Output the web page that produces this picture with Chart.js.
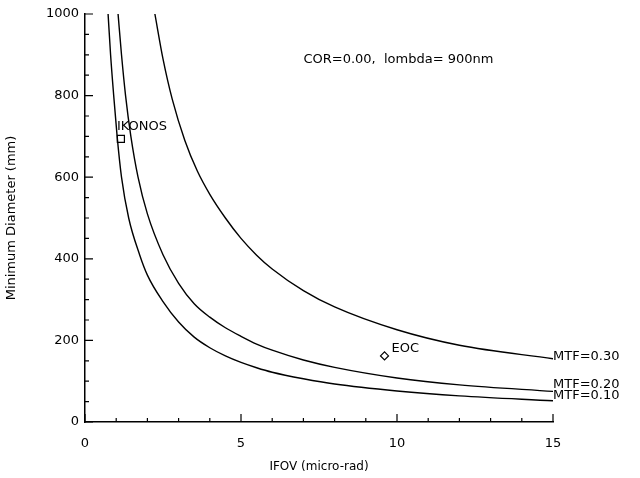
<!DOCTYPE html>
<html>
<head>
<meta charset="utf-8">
<script src="https://cdn.jsdelivr.net/npm/chart.js@4"></script>
<style>
  body { margin: 0; background: #fff; }
  #wrap { width: 640px; height: 478px; }
</style>
</head>
<body>
<div id="wrap"><canvas id="myChart"></canvas></div>
<script>
// Curves (IFOV in micro-rad, diameter in mm)
const ifov10 = [0.74, 0.82, 0.92, 1.03, 1.17, 1.4, 1.75, 2, 2.5, 3, 3.5, 4, 4.5, 5, 5.5, 6, 7, 8, 10, 12, 15];
const dia10  = [1000, 900, 800, 700, 600, 500, 410, 360, 295, 245, 208, 182, 162, 146, 133, 122, 106, 93, 76, 64, 52];
const ifov20 = [1.06, 1.17, 1.3, 1.47, 1.7, 2, 2.5, 3, 3.5, 4, 4.5, 5, 5.5, 6, 7, 8, 10, 12, 15];
const dia20  = [1000, 900, 800, 700, 600, 510, 410, 340, 290, 257, 231, 210, 191, 176, 152, 134, 108, 91, 75];
const ifov30 = [2.24, 2.5, 2.8, 3.2, 3.6, 4, 4.5, 5, 5.5, 6, 7, 8, 10, 12, 15];
const dia30  = [1000, 890, 790, 690, 615, 558, 500, 450, 409, 375, 322, 282, 226, 188, 155];
const curveLabels = ["MTF=0.10", "MTF=0.20", "MTF=0.30"];

// Sensors
const sensorNames = ["IKONOS", "EOC"];
const sensorIfov = [1.15, 9.6];
const sensorDia = [694, 162];

const xTicks = [0, 5, 10, 15];
const yTicks = [0, 200, 400, 600, 800, 1000];

const FONT = "DejaVu Sans";

function pts(xs, ys) {
  return xs.map((x, i) => ({ x: x, y: ys[i] }));
}

function curve(xs, ys, label) {
  return {
    label: label,
    data: pts(xs, ys),
    showLine: true,
    borderColor: "#000",
    borderWidth: 1.4,
    pointRadius: 0,
    cubicInterpolationMode: "monotone",
    fill: false
  };
}

// Inward ticks, like the original plot
const tickPlugin = {
  id: "inTicks",
  afterDraw(chart) {
    const ctx = chart.ctx;
    const xs = chart.scales.x, ys = chart.scales.y;
    const area = chart.chartArea;
    ctx.save();
    ctx.strokeStyle = "#000";
    ctx.lineWidth = 1.2;
    ctx.beginPath();
    for (let v = 0; v <= 15; v++) {
      const px = xs.getPixelForValue(v);
      const len = v % 5 === 0 ? 8 : 4;
      ctx.moveTo(px, area.bottom);
      ctx.lineTo(px, area.bottom - len);
    }
    for (let v = 0; v <= 1000; v += 50) {
      const py = ys.getPixelForValue(v);
      const len = v % 200 === 0 ? 8 : 4;
      ctx.moveTo(area.left, py);
      ctx.lineTo(area.left + len, py);
    }
    ctx.stroke();
    ctx.restore();
  }
};

// Text on the plot
const textPlugin = {
  id: "texts",
  afterDatasetsDraw(chart) {
    const ctx = chart.ctx;
    const xs = chart.scales.x, ys = chart.scales.y;
    ctx.save();
    ctx.fillStyle = "#000";
    ctx.font = "13px '" + FONT + "'";
    ctx.textBaseline = "middle";
    ctx.textAlign = "left";
    const endY = [dia10[dia10.length - 1], dia20[dia20.length - 1], dia30[dia30.length - 1]];
    const dy = [-5, -7, -2];
    curveLabels.forEach((t, i) => {
      ctx.fillText(t, xs.getPixelForValue(15), ys.getPixelForValue(endY[i]) + dy[i]);
    });
    ctx.fillText(sensorNames[0], xs.getPixelForValue(sensorIfov[0]) - 4, ys.getPixelForValue(sensorDia[0]) - 12);
    ctx.fillText(sensorNames[1], xs.getPixelForValue(sensorIfov[1]) + 7, ys.getPixelForValue(sensorDia[1]) - 7);
    ctx.fillText("COR=0.00,  lombda= 900nm", xs.getPixelForValue(7.0), ys.getPixelForValue(888));
    ctx.restore();
  }
};

new Chart(document.getElementById("myChart"), {
  type: "scatter",
  data: {
    datasets: [
      curve(ifov10, dia10, curveLabels[0]),
      curve(ifov20, dia20, curveLabels[1]),
      curve(ifov30, dia30, curveLabels[2]),
      {
        label: sensorNames[0],
        data: [{ x: sensorIfov[0], y: sensorDia[0] }],
        pointStyle: "rect",
        pointRadius: 5,
        borderColor: "#000",
        backgroundColor: "#fff",
        borderWidth: 1.2
      },
      {
        label: sensorNames[1],
        data: [{ x: sensorIfov[1], y: sensorDia[1] }],
        pointStyle: "rectRot",
        pointRadius: 4,
        borderColor: "#000",
        backgroundColor: "#fff",
        borderWidth: 1.2
      }
    ]
  },
  options: {
    responsive: true,
    maintainAspectRatio: false,
    animation: false,
    layout: { padding: { top: 14, right: 87, left: 0, bottom: 0 } },
    plugins: { legend: { display: false }, tooltip: { enabled: false } },
    scales: {
      x: {
        type: "linear",
        min: 0, max: 15,
        afterBuildTicks: s => { s.ticks = xTicks.map(v => ({ value: v })); },
        afterFit: s => { s.height = 56; },
        grid: { display: false, drawTicks: false },
        border: { display: true, color: "#000", width: 1.5 },
        ticks: { color: "#000", font: { family: FONT, size: 13 }, padding: 14, callback: v => String(v) },
        title: {
          display: true, text: "IFOV (micro-rad)", color: "#000",
          font: { family: FONT, size: 12 }, padding: { top: 4 }
        }
      },
      y: {
        type: "linear",
        min: 0, max: 1000,
        afterBuildTicks: s => { s.ticks = yTicks.map(v => ({ value: v })); },
        afterFit: s => { s.width = 85; },
        grid: { display: false, drawTicks: false },
        border: { display: true, color: "#000", width: 1.5 },
        ticks: { color: "#000", font: { family: FONT, size: 13 }, padding: 6, callback: v => String(v) },
        title: {
          display: true, text: "Minimum Diameter (mm)", color: "#000",
          font: { family: FONT, size: 13 }, padding: { bottom: 12 }
        }
      }
    }
  },
  plugins: [tickPlugin, textPlugin]
});
</script>
</body>
</html>
